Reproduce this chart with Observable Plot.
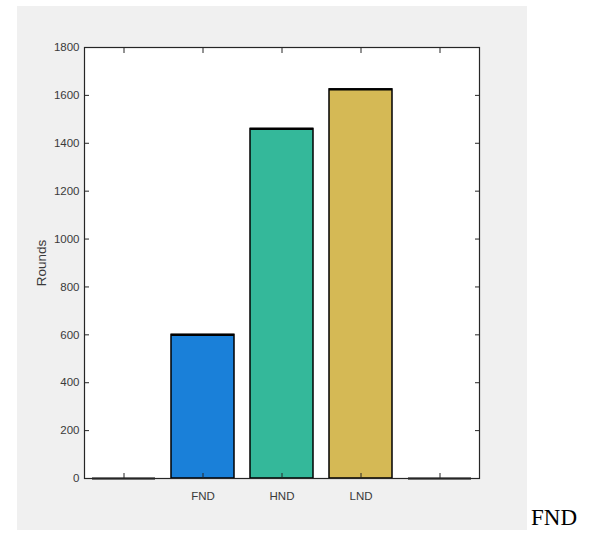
<!DOCTYPE html>
<html>
<head>
<meta charset="utf-8">
<script src="https://cdn.jsdelivr.net/npm/d3@7"></script>
<script src="https://cdn.jsdelivr.net/npm/@observablehq/plot@0.6"></script>
<style>
  html, body { margin: 0; padding: 0; background: #ffffff; width: 600px; height: 533px; overflow: hidden; }
  #chart { position: absolute; left: 17px; top: 6px; }
  #note { position: absolute; left: 531px; top: 505px; font-family: "Liberation Serif", "Times New Roman", serif; font-size: 23px; color: #000; }
</style>
</head>
<body>
<div id="chart"></div>
<div id="note">FND</div>
<script>
const categories = ["", "FND", "HND", "LND", ""];
const values = [0, 600, 1460, 1625, 0];
const barColors = ["#000000", "#1a80d9", "#34b89a", "#d5b955", "#000000"];
const yTicks = [0, 200, 400, 600, 800, 1000, 1200, 1400, 1600, 1800];
const yLabel = "Rounds";

const data = categories.map((c, i) => ({i, c, v: values[i], col: barColors[i]}));
const idx = d3.range(categories.length);

const tickColor = "#262626";
const textColor = "#3a3a3a";

const plot = Plot.plot({
  width: 510,
  height: 524,
  marginLeft: 67,
  marginRight: 48,
  marginTop: 41,
  marginBottom: 52,
  style: {background: "#f0f0f0", fontFamily: "'Liberation Sans', Arial, sans-serif"},
  x: {type: "band", domain: idx, paddingInner: 0.2, paddingOuter: 0.1},
  y: {domain: [0, 1800]},
  color: {type: "identity"},
  marks: [
    Plot.frame({fill: "white", stroke: "none"}),
    Plot.barY(data, {x: "i", y: "v", fill: "col", stroke: "black", strokeWidth: 1.5}),
    Plot.tickY(data, {x: "i", y: "v", stroke: "black", strokeWidth: 2.2}),
    Plot.frame({stroke: tickColor, strokeWidth: 1.2}),
    // y tick labels
    Plot.axisY(yTicks, {anchor: "left", tickSize: 0, tickPadding: 5, fontSize: 11.5, color: textColor,
      tickFormat: d3.format("d"), label: null}),
    // y title
    Plot.axisY(yTicks, {anchor: "left", tickSize: 0, text: null, fontSize: 13.5, color: textColor,
      label: yLabel, labelAnchor: "center", labelOffset: 48, labelArrow: false}),
    // inward ticks
    Plot.axisY(yTicks, {anchor: "left", tickSize: -5, text: null, label: null, stroke: tickColor}),
    Plot.axisY(yTicks, {anchor: "right", tickSize: -5, text: null, label: null, stroke: tickColor}),
    Plot.axisX(idx, {anchor: "bottom", tickSize: 0, tickPadding: 13, fontSize: 11.5, color: textColor,
      tickFormat: i => categories[i], label: null}),
    Plot.axisX(idx, {anchor: "bottom", tickSize: -5, text: null, label: null, stroke: tickColor}),
    Plot.axisX(idx, {anchor: "top", tickSize: -5, text: null, label: null, stroke: tickColor})
  ]
});
document.getElementById("chart").appendChild(plot);
</script>
</body>
</html>
